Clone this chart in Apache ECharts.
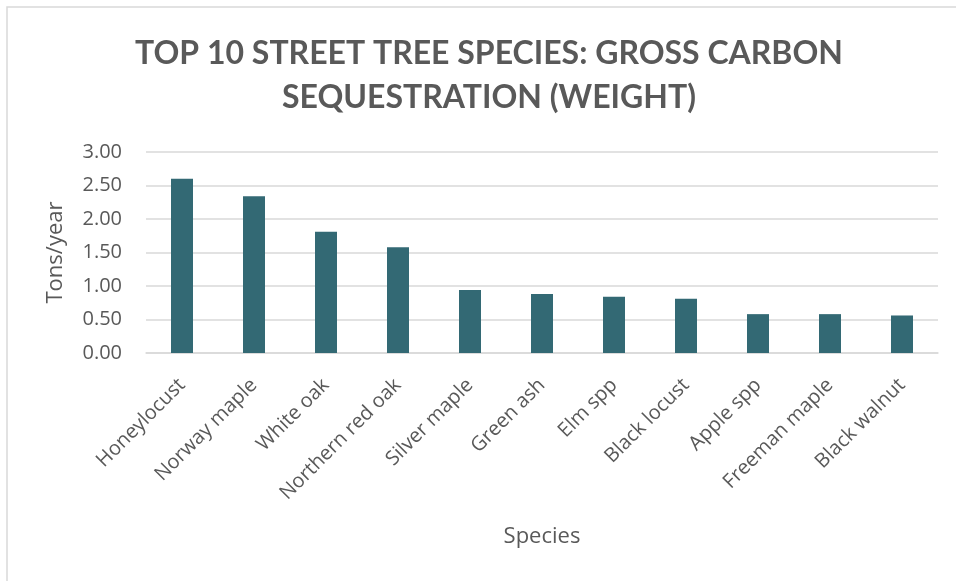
<!DOCTYPE html>
<html>
<head>
<meta charset="utf-8">
<script src="https://cdn.jsdelivr.net/npm/echarts@6/dist/echarts.min.js"></script>
<style>
  html, body { margin: 0; padding: 0; background: #fff; }
  #main { width: 956px; height: 581px; }
</style>
</head>
<body>
<div id="main"></div>
<script>
// species and gross carbon sequestration, tons/year
const species = ['Honeylocust', 'Norway maple', 'White oak', 'Northern red oak', 'Silver maple',
  'Green ash', 'Elm spp', 'Black locust', 'Apple spp', 'Freeman maple', 'Black walnut'];
const tonsPerYear = [2.60, 2.34, 1.81, 1.58, 0.94, 0.88, 0.84, 0.81, 0.58, 0.58, 0.56];
const yTicks = [0, 0.5, 1, 1.5, 2, 2.5, 3];

const txt = '#595959';
const titleFont = 'Lato, "Open Sans", sans-serif';
const font = '"Open Sans", Lato, sans-serif';

let chart = echarts.init(document.getElementById('main'));
chart.setOption({
  backgroundColor: '#fff',
  animation: false,
  graphic: [{
    type: 'rect',
    shape: { x: 7, y: 7, width: 980, height: 600 },
    style: { fill: null, stroke: '#d9d9d9', lineWidth: 1.5 }
  }],
  title: {
    text: 'TOP 10 STREET TREE SPECIES: GROSS CARBON\nSEQUESTRATION (WEIGHT)',
    left: 484,
    top: 27,
    textAlign: 'center',
    textStyle: {
      color: txt,
      fontFamily: titleFont,
      fontWeight: 'bold',
      fontSize: 32,
      lineHeight: 44
    }
  },
  grid: { left: 146, right: 18, top: 152, bottom: 228 },
  xAxis: {
    type: 'category',
    data: species,
    name: 'Species',
    nameLocation: 'middle',
    nameGap: 173,
    nameTextStyle: { color: txt, fontFamily: font, fontSize: 22 },
    axisLine: { lineStyle: { color: '#d9d9d9', width: 1.5 } },
    axisTick: { show: false },
    axisLabel: {
      rotate: 45,
      margin: 29,
      interval: 0,
      color: txt,
      fontFamily: font,
      fontSize: 20
    }
  },
  yAxis: {
    type: 'value',
    min: yTicks[0],
    max: yTicks[yTicks.length - 1],
    interval: 0.5,
    name: 'Tons/year',
    nameLocation: 'middle',
    nameGap: 79,
    nameTextStyle: { color: txt, fontFamily: font, fontSize: 22 },
    axisLine: { show: false },
    axisTick: { show: false },
    splitLine: { lineStyle: { color: '#d9d9d9', width: 1.5 } },
    axisLabel: {
      margin: 24,
      color: txt,
      fontFamily: font,
      fontSize: 20,
      formatter: v => v.toFixed(2)
    }
  },
  series: [{
    type: 'bar',
    data: tonsPerYear,
    barWidth: 22,
    itemStyle: { color: '#336974' }
  }]
});
</script>
</body>
</html>
